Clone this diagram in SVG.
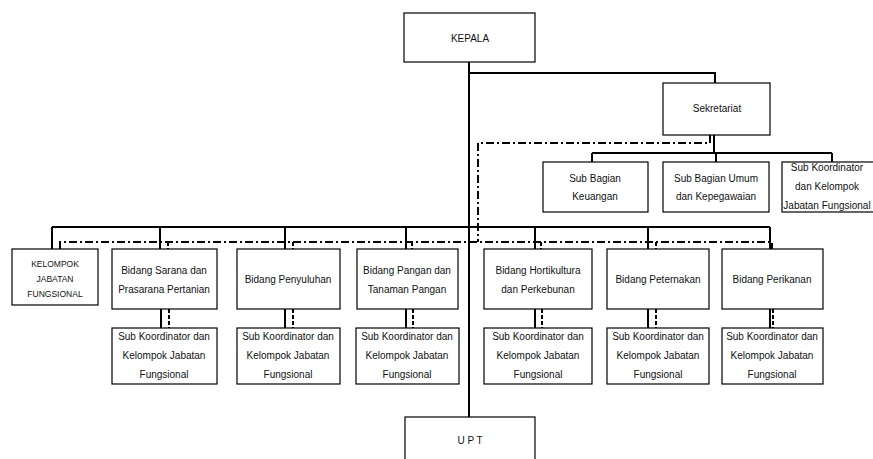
<svg xmlns="http://www.w3.org/2000/svg" width="873" height="459" viewBox="0 0 873 459">
<style>
.box{fill:#fff;stroke:#000;stroke-width:1.2}
.t{font-family:"Liberation Sans",Arial,sans-serif;font-size:10px;fill:#111;text-anchor:middle}
.s{font-size:8.5px}
.sol{fill:none;stroke:#000;stroke-width:2}
.dd{fill:none;stroke:#000;stroke-width:2;stroke-dasharray:8 3 2 3}
.ds{fill:none;stroke:#000;stroke-width:2;stroke-dasharray:4 2}
</style>
<rect width="873" height="459" fill="#fff"/>
<g id="connectors">
<path class="sol" d="M469 62V417M469 73H715V83"/>
<path class="sol" d="M714 135V153M592 153H832M592 153V162M716 153V162M832 153V162"/>
<path class="sol" d="M52 227H770M52 227V249M160 227V249M285 227V249M406 227V249M535 227V249M648 227V249M770 227V249"/>
<path class="dd" d="M710 135V143H478V242"/>
<path class="dd" d="M60 249V242H772V249"/>
<path class="ds" d="M168 242V249M293 242V249M412 242V249M541 242V249M656 242V249"/>
<path class="sol" d="M161 309V328M285 309V328M406 309V328M535 309V328M648 309V328M770 309V328"/>
<path class="ds" d="M169 309V328M293 309V328M413 309V328M542 309V328M656 309V328M773 309V328"/>
</g>
<g id="kepala"><rect class="box" x="404" y="13" width="131" height="49"/><text class="t" x="470" y="42">KEPALA</text></g>
<g id="sekretariat"><rect class="box" x="663" y="83" width="107" height="52"/><text class="t" x="717" y="112">Sekretariat</text></g>
<g id="keuangan"><rect class="box" x="543" y="162" width="105" height="50"/><text class="t" x="595" y="182">Sub Bagian</text><text class="t" x="595" y="200">Keuangan</text></g>
<g id="umum"><rect class="box" x="663" y="162" width="106" height="50"/><text class="t" x="716" y="182">Sub Bagian Umum</text><text class="t" x="716" y="200">dan Kepegawaian</text></g>
<g id="subkoor-sek"><rect class="box" x="782" y="162" width="100" height="50"/><text class="t" x="827" y="171">Sub Koordinator</text><text class="t" x="827" y="190">dan Kelompok</text><text class="t" x="827" y="209">Jabatan Fungsional</text></g>
<g id="kjf"><rect class="box" x="12" y="249" width="86" height="56"/><text class="t s" x="55" y="267">KELOMPOK</text><text class="t s" x="55" y="282">JABATAN</text><text class="t s" x="55" y="297">FUNGSIONAL</text></g>
<g id="sarana"><rect class="box" x="112" y="249" width="105" height="60"/><text class="t" x="164" y="274">Bidang Sarana dan</text><text class="t" x="164" y="293">Prasarana Pertanian</text></g>
<g id="penyuluhan"><rect class="box" x="237" y="249" width="103" height="60"/><text class="t" x="288" y="283">Bidang Penyuluhan</text></g>
<g id="pangan"><rect class="box" x="357" y="249" width="101" height="60"/><text class="t" x="407" y="274">Bidang Pangan dan</text><text class="t" x="407" y="293">Tanaman Pangan</text></g>
<g id="hortikultura"><rect class="box" x="484" y="249" width="108" height="60"/><text class="t" x="538" y="274">Bidang Hortikultura</text><text class="t" x="538" y="293">dan Perkebunan</text></g>
<g id="peternakan"><rect class="box" x="607" y="249" width="102" height="60"/><text class="t" x="658" y="283">Bidang Peternakan</text></g>
<g id="perikanan"><rect class="box" x="722" y="249" width="101" height="60"/><text class="t" x="772" y="283">Bidang Perikanan</text></g>
<g id="sk1"><rect class="box" x="112" y="328" width="105" height="56"/><text class="t" x="164" y="340">Sub Koordinator dan</text><text class="t" x="164" y="359">Kelompok Jabatan</text><text class="t" x="164" y="378">Fungsional</text></g>
<g id="sk2"><rect class="box" x="237" y="328" width="103" height="56"/><text class="t" x="288" y="340">Sub Koordinator dan</text><text class="t" x="288" y="359">Kelompok Jabatan</text><text class="t" x="288" y="378">Fungsional</text></g>
<g id="sk3"><rect class="box" x="356" y="328" width="103" height="56"/><text class="t" x="407" y="340">Sub Koordinator dan</text><text class="t" x="407" y="359">Kelompok Jabatan</text><text class="t" x="407" y="378">Fungsional</text></g>
<g id="sk4"><rect class="box" x="484" y="328" width="108" height="56"/><text class="t" x="538" y="340">Sub Koordinator dan</text><text class="t" x="538" y="359">Kelompok Jabatan</text><text class="t" x="538" y="378">Fungsional</text></g>
<g id="sk5"><rect class="box" x="607" y="328" width="102" height="56"/><text class="t" x="658" y="340">Sub Koordinator dan</text><text class="t" x="658" y="359">Kelompok Jabatan</text><text class="t" x="658" y="378">Fungsional</text></g>
<g id="sk6"><rect class="box" x="722" y="328" width="101" height="56"/><text class="t" x="772" y="340">Sub Koordinator dan</text><text class="t" x="772" y="359">Kelompok Jabatan</text><text class="t" x="772" y="378">Fungsional</text></g>
<g id="upt"><rect class="box" x="405" y="417" width="130" height="50"/><text class="t" x="470" y="444">U P T</text></g>
</svg>
